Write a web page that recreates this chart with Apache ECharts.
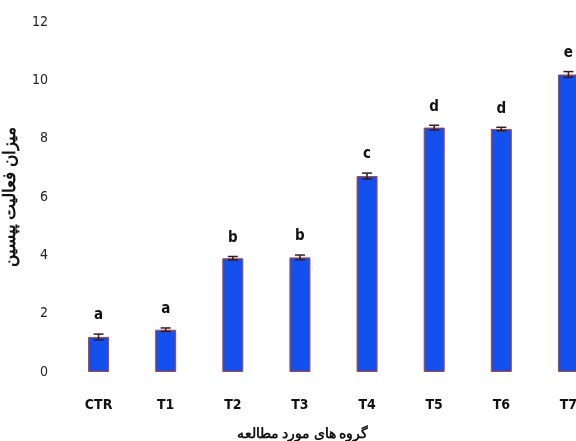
<!DOCTYPE html>
<html>
<head>
<meta charset="utf-8">
<script src="https://cdn.jsdelivr.net/npm/echarts@6/dist/echarts.min.js"></script>
<style>
  html, body { margin: 0; padding: 0; background: #fff; }
  #chart { width: 576px; height: 441px; }
</style>
</head>
<body>
<div id="chart"></div>
<script>
  // groups and values
  var groups = ['CTR', 'T1', 'T2', 'T3', 'T4', 'T5', 'T6', 'T7'];
  var activity = [1.2, 1.45, 3.9, 3.93, 6.72, 8.38, 8.33, 10.2];
  var errs = [0.1, 0.06, 0.06, 0.08, 0.1, 0.08, 0.06, 0.1];
  var letters = ['a', 'a', 'b', 'b', 'c', 'd', 'd', 'e'];

  var chart = echarts.init(document.getElementById('chart'));

  var errData = activity.map(function (v, i) {
    return [i, v - errs[i], v + errs[i], letters[i]];
  });

  var option = {
    animation: false,
    grid: { left: 65, right: -26, top: 22, bottom: 69, outerBoundsMode: 'none', containLabel: false },
    xAxis: {
      type: 'category',
      data: groups,
      name: 'گروه های مورد مطالعه',
      nameLocation: 'middle',
      nameGap: 55,
      nameTextStyle: { fontFamily: 'Noto Sans', fontWeight: 'bold', fontSize: 14, color: '#111', padding: [0, 62, 0, 0] },
      axisLine: { show: false },
      axisTick: { show: false },
      axisLabel: { fontFamily: 'DejaVu Sans Condensed', fontWeight: 'bold', fontSize: 14, color: '#111', margin: 26 }
    },
    yAxis: {
      type: 'value',
      min: 0,
      max: 12,
      interval: 2,
      name: 'میزان فعالیت پپسین',
      nameLocation: 'middle',
      nameGap: 46,
      nameRotate: 90,
      nameTextStyle: { fontFamily: 'Noto Sans', fontWeight: 'bold', fontSize: 17, color: '#111' },
      splitLine: { show: false },
      axisLine: { show: false },
      axisTick: { show: false },
      axisLabel: { fontFamily: 'DejaVu Sans Condensed', fontSize: 14, color: '#222', margin: 17 }
    },
    series: [
      {
        type: 'bar',
        data: activity,
        barWidth: 21,
        itemStyle: { color: '#1450ee', borderColor: '#b8452c', borderWidth: 1 }
      },
      {
        type: 'custom',
        data: errData,
        z: 5,
        renderItem: function (params, api) {
          var x = api.coord([api.value(0), api.value(1)])[0];
          var lo = api.coord([api.value(0), api.value(1)])[1];
          var hi = api.coord([api.value(0), api.value(2)])[1];
          var w = 5;
          var st = { stroke: '#3a1a1a', lineWidth: 1.5 };
          return {
            type: 'group',
            children: [
              { type: 'line', shape: { x1: x, y1: lo, x2: x, y2: hi }, style: st },
              { type: 'line', shape: { x1: x - w, y1: hi, x2: x + w, y2: hi }, style: st },
              { type: 'line', shape: { x1: x - w, y1: lo, x2: x + w, y2: lo }, style: st },
              {
                type: 'text',
                x: x,
                y: hi - 11,
                style: {
                  text: api.value(3),
                  textAlign: 'center',
                  textVerticalAlign: 'bottom',
                  fontFamily: 'DejaVu Sans Condensed',
                  fontWeight: 'bold',
                  fontSize: 15,
                  fill: '#111'
                }
              }
            ]
          };
        }
      }
    ]
  };

  chart.setOption(option);
</script>
</body>
</html>
